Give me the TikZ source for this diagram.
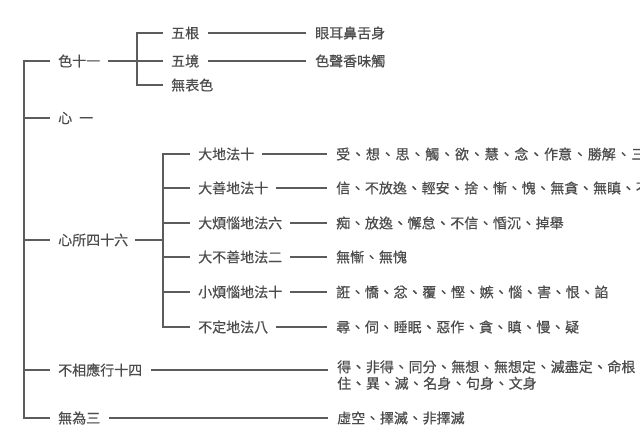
\documentclass[tikz,border=0pt]{standalone}
\usepackage{fontspec}
\newfontfamily\cjk[FakeBold=0.6]{Noto Sans CJK TC}
\newcommand\dun{\makebox[14.7pt][c]{、}}
\newcommand\dunw{\makebox[15.7pt][c]{、}}
\definecolor{txtgray}{HTML}{4C4C4C}
\definecolor{linegray}{HTML}{5C5C5C}
\tikzset{
  lbl/.style={anchor=west, inner sep=0pt, text=txtgray, font=\cjk\fontsize{14}{16.5}\selectfont},
  conn/.style={draw=linegray, line width=1.1pt},
}

\begin{document}
\begin{tikzpicture}[x=1pt,y=-1pt]
\useasboundingbox (0,0) rectangle (640,443);
\clip (0,0) rectangle (640,443);
% first level
\node[lbl] (se) at (58,61) {色十一};
\node[lbl] (xin) at (58,118) {心\hspace{7pt}一};
\node[lbl] (xinsuo) at (58,240) {心所四十六};
\node[lbl] (buxiang) at (58,370) {不相應行十四};
\node[lbl] (wuwei) at (58,418) {無為三};
\coordinate (trunk) at (24,61);
\draw[conn] ([xshift=-8pt]se.west) -- (trunk) -- (trunk |- wuwei.west) -- ([xshift=-8pt]wuwei.west);
\draw[conn] (trunk |- xin.west) -- ([xshift=-8pt]xin.west);
\draw[conn] (trunk |- xinsuo.west) -- ([xshift=-8pt]xinsuo.west);
\draw[conn] (trunk |- buxiang.west) -- ([xshift=-8pt]buxiang.west);
% se shi yi
\node[lbl] (wugen) at (171,33) {五根};
\node[lbl] (wujing) at (171,61) {五境};
\node[lbl] (wubiao) at (171,85) {無表色};
\node[lbl] (yan) at (315,33) {眼耳鼻舌身};
\node[lbl] (sesheng) at (315,61) {色聲香味觸};
\coordinate (sebar) at (137,61);
\draw[conn] ([xshift=-8pt]wugen.west) -- (sebar |- wugen.west) -- (sebar |- wubiao.west) -- ([xshift=-8pt]wubiao.west);
\draw[conn] ([xshift=8pt]se.east) -- ([xshift=-8pt]wujing.west);
\draw[conn] ([xshift=9pt]wugen.east) -- ([xshift=-9pt]yan.west);
\draw[conn] ([xshift=9pt]wujing.east) -- ([xshift=-9pt]sesheng.west);
% xin suo
\node[lbl] (dadi) at (198,154) {大地法十};
\node[lbl] (dashan) at (198,188) {大善地法十};
\node[lbl] (dafan) at (198,223) {大煩惱地法六};
\node[lbl] (dabushan) at (198,257) {大不善地法二};
\node[lbl] (xiaofan) at (198,292) {小煩惱地法十};
\node[lbl] (buding) at (198,327) {不定地法八};
\node[lbl] (dadi-i) at (336,154) {受\dunw 想\dunw 思\dunw 觸\dunw 欲\dunw 慧\dunw 念\dunw 作意\dunw 勝解\dunw 三摩地};
\node[lbl] (dashan-i) at (336,188) {信\dun 不放逸\dun 輕安\dun 捨\dun 慚\dun 愧\dun 無貪\dun 無瞋\dun 不害\dun 勤};
\node[lbl] (dafan-i) at (336,223) {痴\dun 放逸\dun 懈怠\dun 不信\dun 惛沉\dun 掉舉};
\node[lbl] (dabushan-i) at (336,257) {無慚\dun 無愧};
\node[lbl] (xiaofan-i) at (336,292) {誑\dun 憍\dun 忿\dun 覆\dun 慳\dun 嫉\dun 惱\dun 害\dun 恨\dun 諂};
\node[lbl] (buding-i) at (336,327) {尋\dun 伺\dun 睡眠\dun 惡作\dun 貪\dun 瞋\dun 慢\dun 疑};
\coordinate (xsbar) at (163,240);
\draw[conn] ([xshift=-8pt]dadi.west) -- (xsbar |- dadi.west) -- (xsbar |- buding.west) -- ([xshift=-8pt]buding.west);
\draw[conn] ([xshift=7pt]xinsuo.east) -- (xsbar);
\foreach \n in {dashan,dafan,dabushan,xiaofan}
  \draw[conn] (xsbar |- \n.west) -- ([xshift=-8pt]\n.west);
\foreach \n in {dadi,dashan,dafan,dabushan,xiaofan,buding}
  \draw[conn] ([xshift=8pt]\n.east) -- ([xshift=-9pt]\n-i.west);
% bu xiang ying, wu wei
\node[lbl, anchor=north west, align=left] (buxiang-i) at (337,360) {得\dun 非得\dun 同分\dun 無想\dun 無想定\dun 滅盡定\dun 命根\\住\dun 異\dun 滅\dun 名身\dun 句身\dun 文身};
\node[lbl] (wuwei-i) at (337,418) {虛空\dun 擇滅\dun 非擇滅};
\draw[conn] ([xshift=9pt]buxiang.east) -- ([xshift=-9pt]buxiang-i.west |- buxiang.east);
\draw[conn] ([xshift=9pt]wuwei.east) -- ([xshift=-9pt]wuwei-i.west);
\end{tikzpicture}
\end{document}
